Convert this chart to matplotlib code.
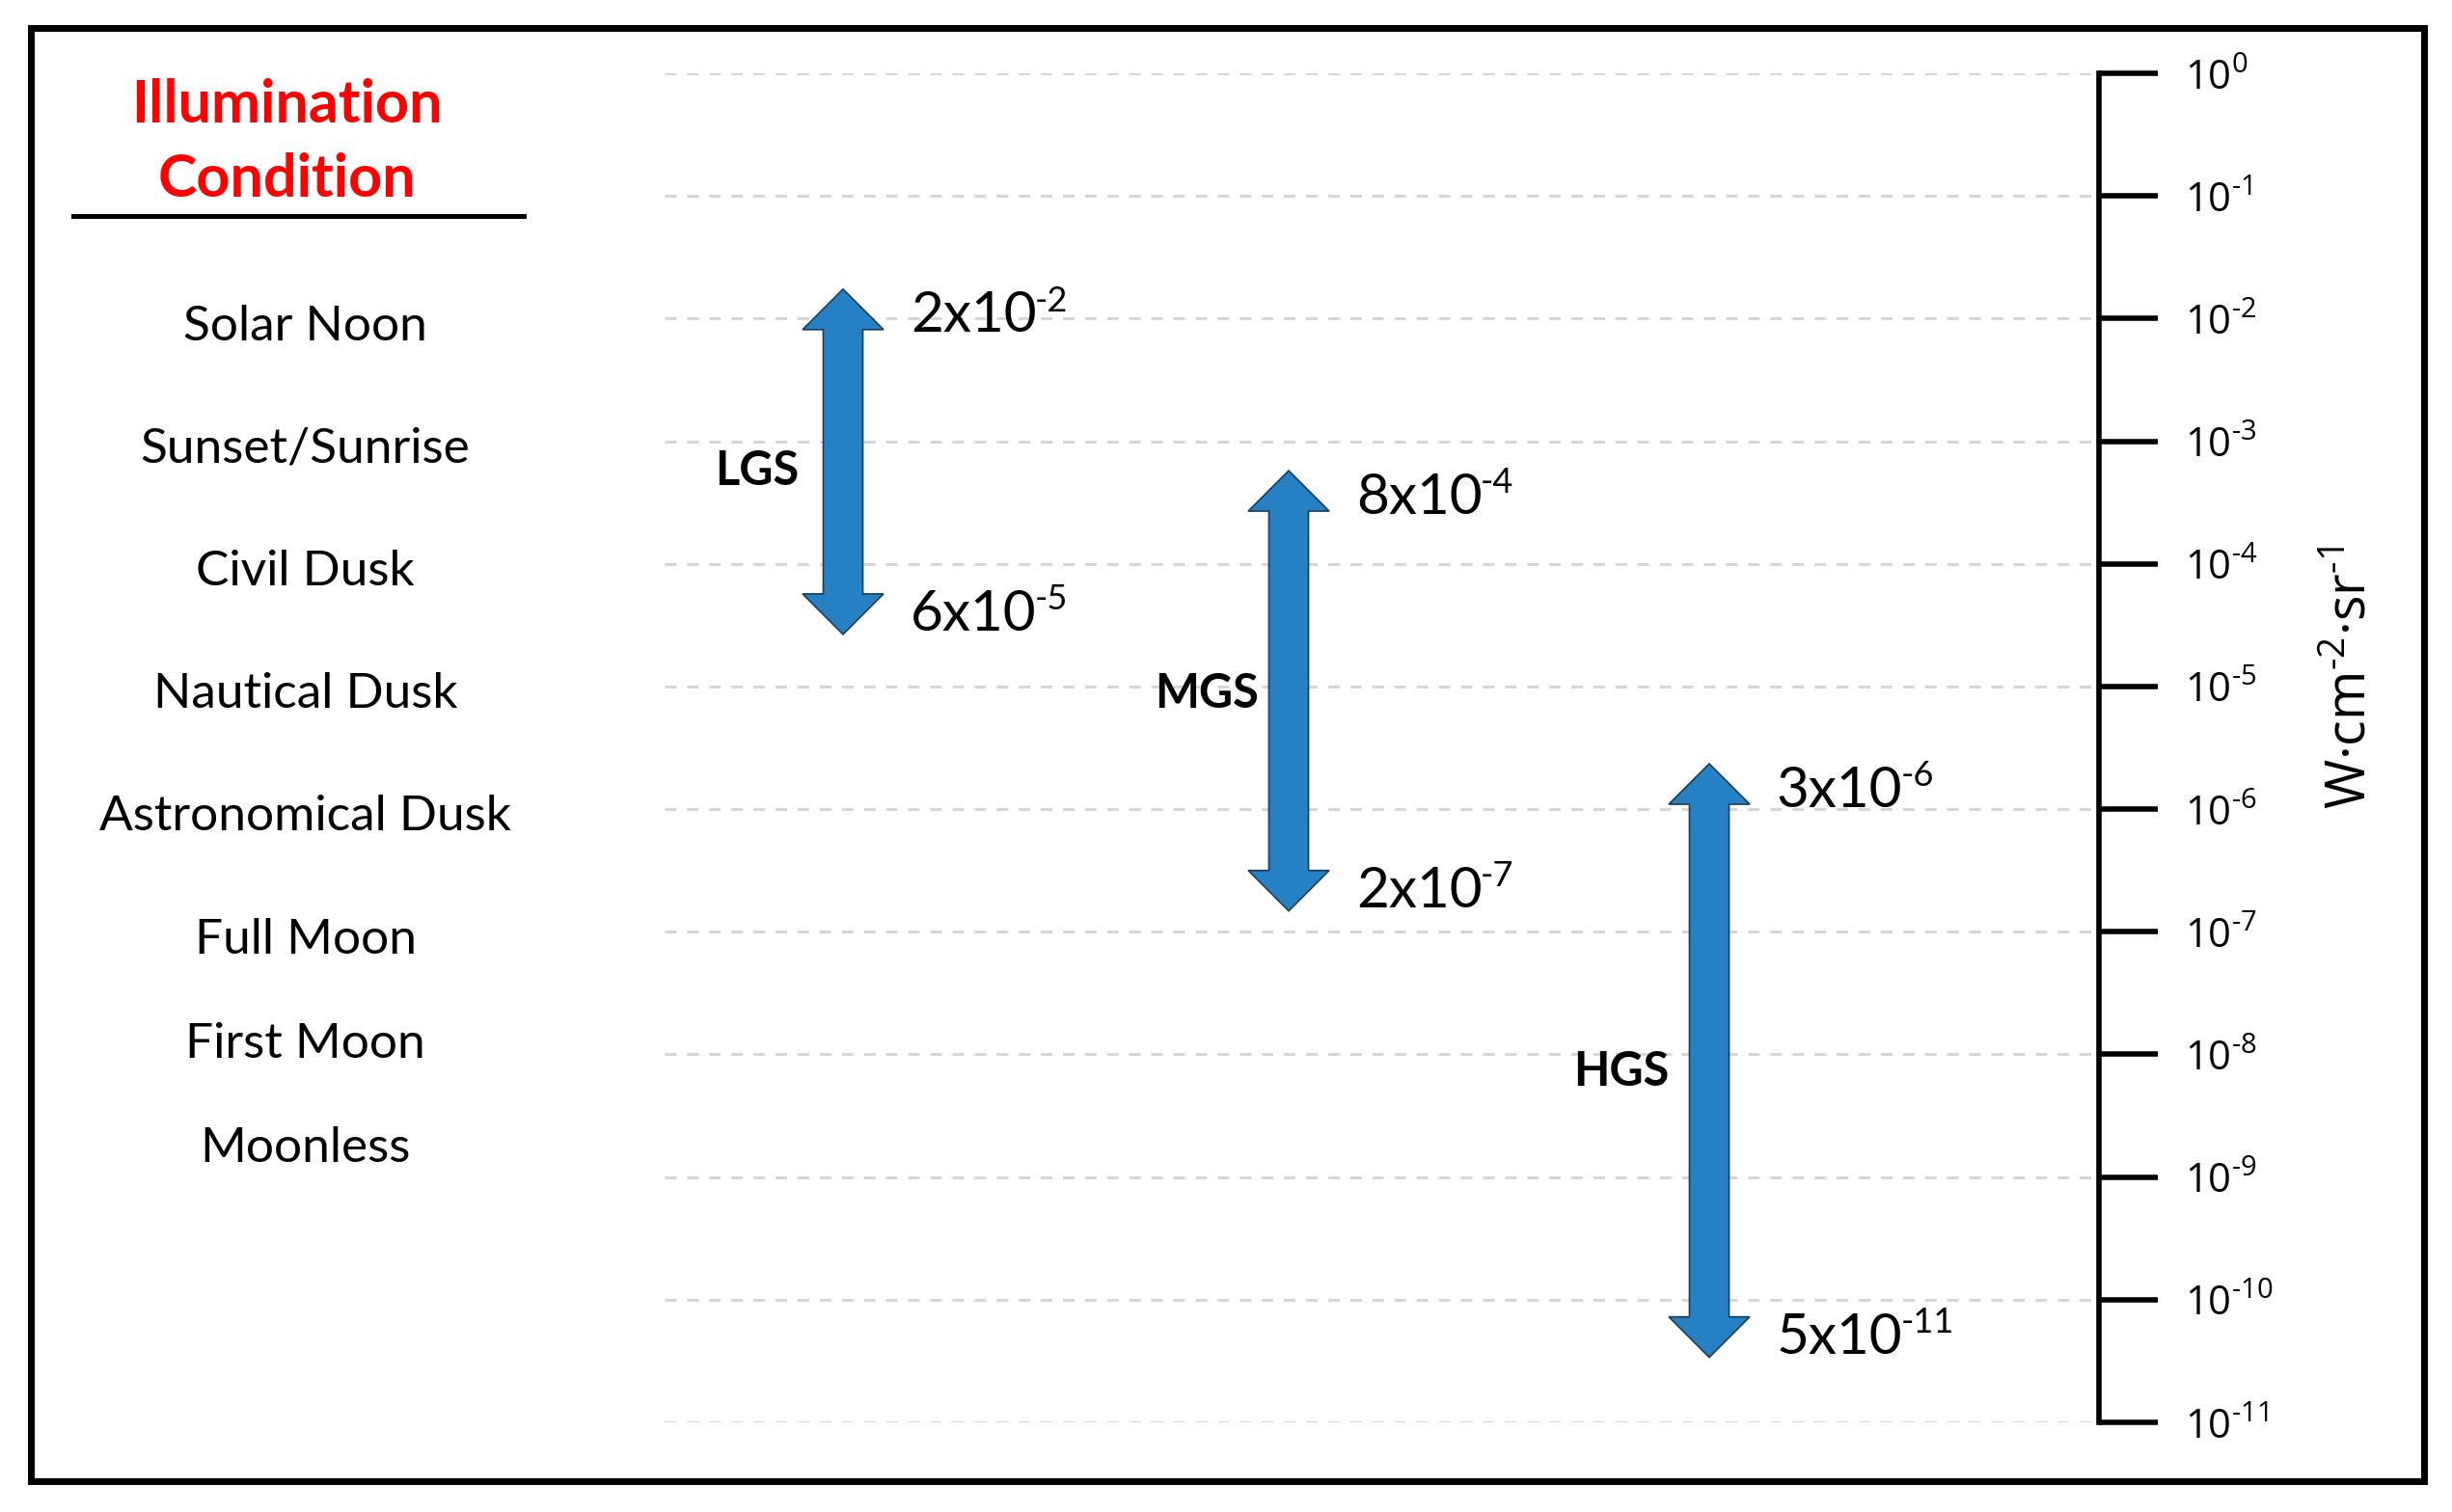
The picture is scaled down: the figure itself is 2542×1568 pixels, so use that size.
import matplotlib
matplotlib.use("Agg")
import matplotlib.pyplot as plt
from matplotlib.patches import Polygon, Rectangle
from matplotlib.lines import Line2D
from matplotlib.ticker import NullLocator

plt.rcParams["mathtext.fontset"] = "custom"
plt.rcParams["mathtext.rm"] = "Open Sans"
plt.rcParams["mathtext.it"] = "Open Sans:italic"
plt.rcParams["mathtext.bf"] = "Open Sans:bold"

# illumination conditions and the decade (log10) they sit at
conditions = ["Solar Noon", "Sunset/Sunrise", "Civil Dusk", "Nautical Dusk",
              "Astronomical Dusk", "Full Moon", "First Moon", "Moonless"]
condition_levels = [-2, -3, -4, -5, -6, -7, -7.85, -8.7]

# sensors and their radiance range
sensors = ["LGS", "MGS", "HGS"]
upper_mant = [2, 8, 3]
upper_exp = [-2, -4, -6]
lower_mant = [6, 2, 5]
lower_exp = [-5, -7, -11]
# arrow ends as drawn (log10 of W cm-2 sr-1)
arrow_top = [-1.76, -3.24, -5.63]
arrow_bottom = [-4.575, -6.83, -10.47]

decades = list(range(0, -12, -1))

# layout (axes x fraction)
arrow_x = [0.1244, 0.4351, 0.7283]
sensor_label_x = [0.0646, 0.378, 0.667]
sensor_label_y = [-3.24, -5.06, -8.14]

blue = "#2581c4"

fig = plt.figure(figsize=(25.42, 15.68), dpi=100)
ax = fig.add_axes([0.27105, 0.05931, 0.58497, 0.89222])
ax.set_yscale("log")
ax.set_ylim(1e-11, 1)
ax.set_xlim(0, 1)

for s in ["top", "bottom", "left"]:
    ax.spines[s].set_visible(False)
ax.spines["right"].set_linewidth(4)
ax.set_xticks([])
ax.yaxis.tick_right()
ax.set_yticks([10.0 ** d for d in decades])
ax.set_yticklabels([r"$10^{%s}$" % (r"\text{%d}" % d if d < 0 else "0") for d in decades])
ax.yaxis.set_minor_locator(NullLocator())
ax.tick_params(axis="y", direction="out", length=44, width=4, pad=20, labelsize=30)
ax.set_axisbelow(True)
ax.grid(axis="y", which="major", color="#d6d6d6", linewidth=2.2, linestyle=(0, (3.9, 3.6)))

ax.text(1.1762, 0.5525, r"W·cm$^{\text{-2}}$·sr$^{\text{-1}}$", transform=ax.transAxes,
        rotation=90, ha="center", va="center", fontsize=40, family="Open Sans")

head_w, shaft_w, head_h = 0.0282, 0.0138, 0.33


def updown_arrow(xc, top, bot):
    pts = [(xc, top), (xc + head_w, top - head_h), (xc + shaft_w, top - head_h),
           (xc + shaft_w, bot + head_h), (xc + head_w, bot + head_h), (xc, bot),
           (xc - head_w, bot + head_h), (xc - shaft_w, bot + head_h),
           (xc - shaft_w, top - head_h), (xc - head_w, top - head_h)]
    return Polygon([(x, 10.0 ** e) for x, e in pts], closed=True,
                   facecolor=blue, edgecolor="#1c3d5a", linewidth=1.2, zorder=3)


def value_label(x, e, mant, exp):
    t = ax.text(x, 10.0 ** e, f"{mant}x10", fontsize=42, family="Lato",
                ha="left", va="baseline", zorder=4)
    ax.annotate(f"-{abs(exp)}", xy=(1, 1), xycoords=t, xytext=(-1, 4),
                textcoords="offset points", fontsize=26, family="Lato",
                ha="left", va="top", zorder=4)


for i, name in enumerate(sensors):
    ax.add_patch(updown_arrow(arrow_x[i], arrow_top[i], arrow_bottom[i]))
    value_label(arrow_x[i] + 0.047, arrow_top[i] - head_h - 0.02, upper_mant[i], upper_exp[i])
    value_label(arrow_x[i] + 0.047, arrow_bottom[i] + 0.03, lower_mant[i], lower_exp[i])
    ax.text(sensor_label_x[i], 10.0 ** sensor_label_y[i], name, fontsize=35,
            family="Lato", weight="bold", ha="center", va="center")

for name, lvl in zip(conditions, condition_levels):
    ax.text(-0.2505, 10.0 ** (lvl - 0.065), name, fontsize=37, family="Lato",
            ha="center", va="center", clip_on=False)

ax.text(-0.2636, 10.0 ** -0.26, "Illumination", fontsize=44, family="Lato",
        weight="bold", color="red", ha="center", va="center", clip_on=False)
ax.text(-0.2636, 10.0 ** -0.865, "Condition", fontsize=44, family="Lato",
        weight="bold", color="red", ha="center", va="center", clip_on=False)

fig.add_artist(Line2D([0.0299, 0.2136], [0.857, 0.857], color="black", linewidth=3.6))
fig.add_artist(Rectangle((0.0126, 0.0204), 0.976, 0.9608, fill=False,
                         edgecolor="black", linewidth=5, transform=fig.transFigure))

fig.savefig("out.png", dpi=100)
plt.close()
